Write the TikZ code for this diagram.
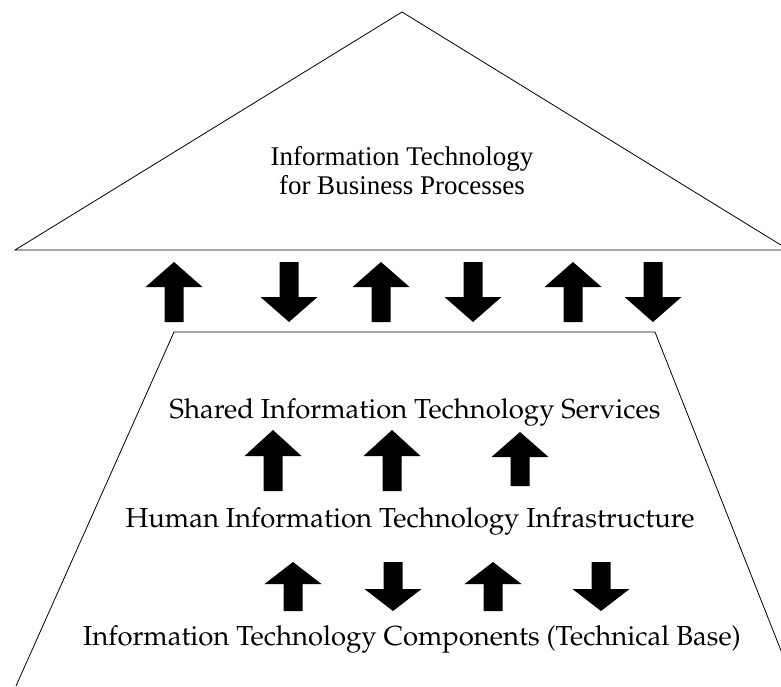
\documentclass[tikz,border=0pt]{standalone}
\usepackage[T1,TU]{fontenc}
\usepackage{fontspec}
\newfontfamily\timesf{Liberation Serif}
\DeclareRobustCommand\palaf{\fontencoding{T1}\fontfamily{ppl}\selectfont}
\newcommand\UpArr[4]{% x, ytip, ybottom, headheight
  \fill[black] (#1,#2) -- (#1+28.5,#2+#4) -- (#1+9.5,#2+#4) -- (#1+9.5,#3) -- (#1-9.5,#3) -- (#1-9.5,#2+#4) -- (#1-28.5,#2+#4) -- cycle;}
\newcommand\DnArr[4]{% x, ytop, ytip, headheight
  \fill[black] (#1,#3) -- (#1+28.5,#3-#4) -- (#1+9.5,#3-#4) -- (#1+9.5,#2) -- (#1-9.5,#2) -- (#1-9.5,#3-#4) -- (#1-28.5,#3-#4) -- cycle;}
\tikzset{
  outline/.style={draw=black,line width=0.8pt,line join=miter},
  toptext/.style={font=\timesf\fontsize{27}{29}\selectfont,align=center,anchor=base,inner sep=0pt},
  lowtext/.style={font=\palaf\fontsize{27.5}{30}\selectfont,anchor=base,inner sep=0pt}
}
\begin{document}
\begin{tikzpicture}[x=1pt,y=-1pt]
\useasboundingbox (0,0) rectangle (781,686);
\begin{scope}
\clip (0,0) rectangle (781,686);
% triangle roof
\coordinate (apex) at (402,12);
\coordinate (bl) at (15,250);
\coordinate (br) at (789,250);
\draw[outline] (bl) -- (apex) -- (br) -- cycle;
% trapezoid
\coordinate (tl) at (174,332);
\coordinate (tr) at (655,332);
\coordinate (dl) at (16,686);
\coordinate (dr) at (795,686);
\draw[outline] (dl) -- (tl) -- (tr) -- (dr);
\end{scope}
% texts
\node[toptext] (t1) at (402,165) {Information Technology};
\node[toptext] (t2) at (402,194) {for Business Processes};
\node[lowtext] (s) at (415,418) {Shared Information Technology Services};
\node[lowtext] (h) at (410,527) {Human Information Technology Infrastructure};
\node[lowtext] (c) at (412,645) {Information Technology Components (Technical Base)};
% upper arrows
\UpArr{174}{262}{322}{25}
\DnArr{289}{262}{322}{25}
\UpArr{381}{262}{322}{25}
\DnArr{473}{262}{322}{25}
\UpArr{573}{262}{322}{25}
\DnArr{653}{262}{322}{25}
% middle arrows
\UpArr{273}{430}{491}{26}
\UpArr{392}{430}{491}{26}
\UpArr{520}{432}{486}{25}
% lower arrows
\UpArr{293}{562}{611}{22}
\DnArr{393}{562}{611}{22}
\UpArr{493}{562}{611}{22}
\DnArr{601}{562}{611}{22}
\end{tikzpicture}
\end{document}
